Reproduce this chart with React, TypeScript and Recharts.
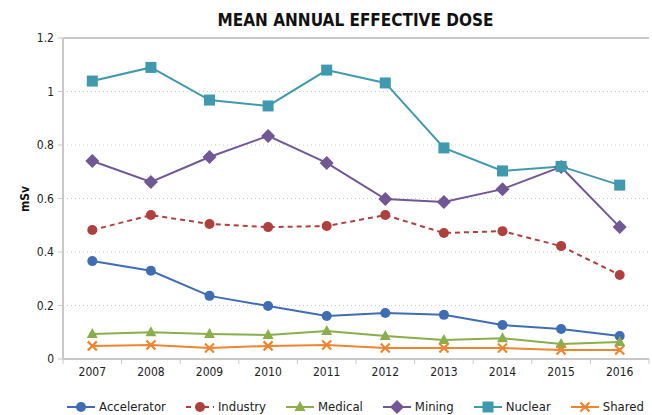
import React from "react";
import {
  LineChart,
  Line,
  XAxis,
  YAxis,
  CartesianGrid,
  ReferenceLine,
} from "recharts";

const years = ["2007", "2008", "2009", "2010", "2011", "2012", "2013", "2014", "2015", "2016"];
const accelerator = [0.366, 0.33, 0.236, 0.198, 0.161, 0.172, 0.165, 0.127, 0.112, 0.086];
const industry = [0.482, 0.538, 0.505, 0.493, 0.497, 0.538, 0.471, 0.478, 0.422, 0.314];
const medical = [0.093, 0.1, 0.093, 0.09, 0.105, 0.086, 0.071, 0.078, 0.056, 0.064];
const mining = [0.74, 0.662, 0.755, 0.834, 0.733, 0.598, 0.587, 0.635, 0.718, 0.493];
const nuclear = [1.039, 1.09, 0.968, 0.946, 1.08, 1.032, 0.789, 0.703, 0.72, 0.65];
const shared = [0.049, 0.052, 0.041, 0.049, 0.052, 0.041, 0.041, 0.041, 0.034, 0.034];
const yTicks = [0, 0.2, 0.4, 0.6, 0.8, 1, 1.2];

const data = years.map((year, i) => ({
  year,
  Accelerator: accelerator[i],
  Industry: industry[i],
  Medical: medical[i],
  Mining: mining[i],
  Nuclear: nuclear[i],
  Shared: shared[i],
}));

const FONT = "'DejaVu Sans Condensed', 'Roboto', sans-serif";
const GRAY = "#c8c8c8";

const W = 652;
const H = 415;
const MARGIN = { top: 38, right: 3, left: 0, bottom: 26 };
const Y_AXIS_W = 63;
const TICK_GAP = 8;
const bandW = (W - MARGIN.left - MARGIN.right - Y_AXIS_W) / years.length;

type Shape = "circle" | "triangle" | "diamond" | "square" | "x";

const series: { key: string; color: string; shape: Shape; dash?: string }[] = [
  { key: "Accelerator", color: "#3f6db3", shape: "circle" },
  { key: "Industry", color: "#b0403d", shape: "circle", dash: "5 4" },
  { key: "Medical", color: "#8aae4c", shape: "triangle" },
  { key: "Mining", color: "#715796", shape: "diamond" },
  { key: "Nuclear", color: "#3f9ab0", shape: "square" },
  { key: "Shared", color: "#ee8530", shape: "x" },
];

const Marker = ({ cx, cy, shape, color }: { cx: number; cy: number; shape: Shape; color: string }) => {
  if (cx == null || cy == null) return null;
  switch (shape) {
    case "circle":
      return <circle cx={cx} cy={cy} r={5} fill={color} />;
    case "triangle":
      return <polygon points={`${cx},${cy - 6} ${cx + 5.5},${cy + 4} ${cx - 5.5},${cy + 4}`} fill={color} />;
    case "diamond":
      return <polygon points={`${cx},${cy - 7} ${cx + 7},${cy} ${cx},${cy + 7} ${cx - 7},${cy}`} fill={color} />;
    case "square":
      return <rect x={cx - 5.5} y={cy - 5.5} width={11} height={11} fill={color} />;
    case "x":
      return (
        <g stroke={color} strokeWidth={2.2}>
          <line x1={cx - 4.5} y1={cy - 4.5} x2={cx + 4.5} y2={cy + 4.5} />
          <line x1={cx - 4.5} y1={cy + 4.5} x2={cx + 4.5} y2={cy - 4.5} />
        </g>
      );
  }
  return null;
};

// year label plus Excel-style tick marks between categories
const YearTick = (props: any) => {
  const { x, y, payload, index } = props;
  const axisY = y - TICK_GAP;
  const left = x - bandW / 2;
  return (
    <g>
      <line x1={left} y1={axisY} x2={left} y2={axisY + 5} stroke={GRAY} />
      {index === years.length - 1 && (
        <line x1={x + bandW / 2} y1={axisY} x2={x + bandW / 2} y2={axisY + 5} stroke={GRAY} />
      )}
      <text x={x} y={y} dy="0.71em" textAnchor="middle" fill="#222" fontSize={12} fontFamily={FONT}>
        {payload.value}
      </text>
    </g>
  );
};

const LegendRow = () => (
  <div
    style={{
      position: "absolute",
      top: 399,
      left: 58,
      width: 594,
      display: "flex",
      justifyContent: "center",
      gap: 19,
      fontFamily: FONT,
      fontSize: 13,
      lineHeight: "15px",
      color: "#222",
    }}
  >
    {series.map((s) => (
      <div key={s.key} style={{ display: "flex", alignItems: "center", gap: 3 }}>
        <svg width={30} height={14}>
          <line x1={1} y1={7} x2={29} y2={7} stroke={s.color} strokeWidth={2} strokeDasharray={s.dash} />
          <Marker cx={15} cy={7} shape={s.shape} color={s.color} />
        </svg>
        <span>{s.key}</span>
      </div>
    ))}
  </div>
);

export default function App() {
  return (
    <div style={{ position: "absolute", top: 0, left: 0, width: W, height: H, background: "#fff" }}>
      <div
        style={{
          position: "absolute",
          top: 10,
          left: 62,
          width: 587,
          textAlign: "center",
          fontFamily: FONT,
          fontWeight: "bold",
          fontSize: 17,
          color: "#111",
        }}
      >
        MEAN ANNUAL EFFECTIVE DOSE
      </div>
      <div
        style={{
          position: "absolute",
          left: 12,
          top: 192,
          transform: "rotate(-90deg)",
          fontFamily: FONT,
          fontWeight: "bold",
          fontSize: 12,
          color: "#111",
        }}
      >
        mSv
      </div>
      <LineChart width={W} height={H} data={data} margin={MARGIN}>
        <CartesianGrid vertical={false} stroke="#c9c9c9" strokeDasharray="1 3" />
        <XAxis
          dataKey="year"
          scale="band"
          height={30}
          interval={0}
          axisLine={{ stroke: GRAY, strokeWidth: 2 }}
          tickLine={false}
          tickSize={0}
          tickMargin={TICK_GAP}
          tick={<YearTick />}
        />
        <YAxis
          width={Y_AXIS_W}
          domain={[0, 1.2]}
          ticks={yTicks}
          interval={0}
          axisLine={{ stroke: GRAY, strokeWidth: 2 }}
          tickLine={{ stroke: GRAY }}
          tickSize={5}
          tickMargin={4}
          tick={{ fill: "#222", fontSize: 12, fontFamily: FONT }}
        />
        <YAxis
          yAxisId="right"
          orientation="right"
          width={0}
          domain={[0, 1.2]}
          axisLine={{ stroke: GRAY, strokeWidth: 2 }}
          tickLine={false}
          tick={false}
        />
        <ReferenceLine y={1.2} stroke={GRAY} strokeWidth={2} />
        {series.map((s) => (
          <Line
            key={s.key}
            dataKey={s.key}
            stroke={s.color}
            strokeWidth={2}
            strokeDasharray={s.dash}
            isAnimationActive={false}
            dot={(p: any) => <Marker key={`${s.key}-${p.index}`} cx={p.cx} cy={p.cy} shape={s.shape} color={s.color} />}
            activeDot={false}
          />
        ))}
      </LineChart>
      <LegendRow />
    </div>
  );
}
